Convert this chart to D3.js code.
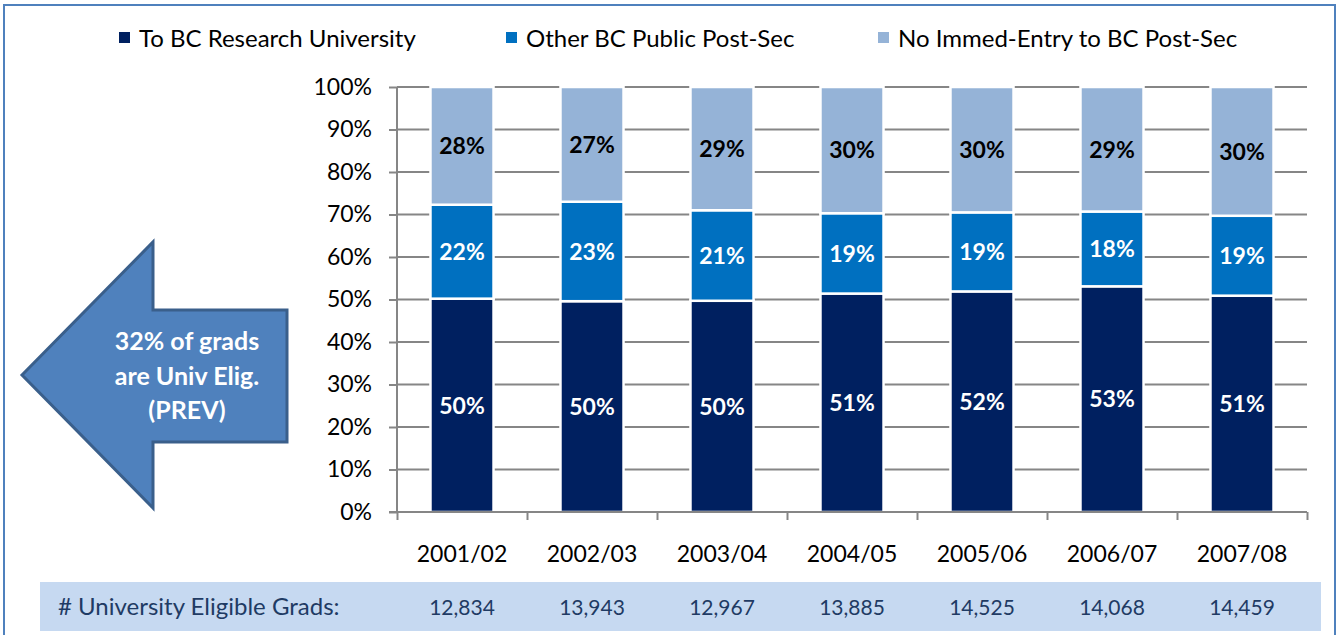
<!DOCTYPE html>
<html lang="en">
<head>
<meta charset="utf-8">
<title>University Eligible Grads</title>
<style>
    body { margin: 0; background: #fff; }
    svg text { font-family: Lato, "Open Sans", sans-serif; }
    .axis path, .axis line { stroke: #868686; stroke-width: 2; }
    .grid line { stroke: #868686; stroke-width: 2; }
</style>
</head>
<body>
<div id="chart"></div>
<script src="https://d3js.org/d3.v7.min.js"></script>
<script type="text/javascript">

    // data
    var years = ["2001/02", "2002/03", "2003/04", "2004/05", "2005/06", "2006/07", "2007/08"];
    var research = [50.2, 49.6, 49.7, 51.4, 51.9, 53.1, 50.9];
    var otherPublic = [22.1, 23.4, 21.3, 18.9, 18.6, 17.6, 18.8];
    var noEntry = [27.7, 27.0, 29.0, 29.7, 29.5, 29.3, 30.3];
    var eligibleGrads = ["12,834", "13,943", "12,967", "13,885", "14,525", "14,068", "14,459"];
    var seriesNames = ["To BC Research University", "Other BC Public Post-Sec", "No Immed-Entry to BC Post-Sec"];
    var seriesColors = ["#002060", "#0070c0", "#95b3d7"];
    var yTicks = [0, 10, 20, 30, 40, 50, 60, 70, 80, 90, 100];

    var W = 1339, H = 635;
    // plot area edges (note: "top" is taken by window.top)
    var plotLeft = 397, plotRight = 1307, plotTop = 87, plotBottom = 512;

    var svg = d3.select("#chart").append("svg")
        .attr("width", W)
        .attr("height", H);

    // outer frame
    svg.append("rect")
        .attr("x", 4).attr("y", 5)
        .attr("width", 1331).attr("height", 660)
        .attr("fill", "none")
        .attr("stroke", "#4f81bd")
        .attr("stroke-width", 2);

    var x = d3.scaleBand()
        .domain(years)
        .range([plotLeft, plotRight])
        .paddingInner(0.515)
        .paddingOuter(0.2575);

    var y = d3.scaleLinear()
        .domain([0, 100])
        .range([plotBottom, plotTop]);

    // gridlines
    svg.append("g")
        .attr("class", "grid")
        .selectAll("line")
        .data(yTicks.slice(1))
        .enter().append("line")
        .attr("x1", plotLeft).attr("x2", plotRight)
        .attr("y1", function(d) { return y(d); })
        .attr("y2", function(d) { return y(d); });

    // stacked data
    var rows = years.map(function(yr, i) {
        return { year: yr, research: research[i], other: otherPublic[i], none: noEntry[i] };
    });
    var stack = d3.stack().keys(["research", "other", "none"]);
    var layers = stack(rows);

    var layer = svg.selectAll(".layer")
        .data(layers)
        .enter().append("g")
        .attr("class", "layer")
        .attr("fill", function(d, i) { return seriesColors[i]; });

    layer.selectAll("rect")
        .data(function(d) { return d; })
        .enter().append("rect")
        .attr("x", function(d) { return x(d.data.year); })
        .attr("width", x.bandwidth())
        .attr("y", function(d) { return y(d[1]); })
        .attr("height", function(d) { return y(d[0]) - y(d[1]); })
        .attr("stroke", "#fff")
        .attr("stroke-width", 2.5);

    // segment labels
    layer.selectAll("text")
        .data(function(d, i) { return d.map(function(p) { p.layerIndex = i; return p; }); })
        .enter().append("text")
        .attr("x", function(d) { return x(d.data.year) + x.bandwidth() / 2; })
        .attr("y", function(d) { return (y(d[0]) + y(d[1])) / 2; })
        .attr("dy", "0.36em")
        .attr("text-anchor", "middle")
        .attr("font-weight", "bold")
        .attr("font-size", 23)
        .attr("fill", function(d) { return d.layerIndex === 2 ? "#000" : "#fff"; })
        .text(function(d) { return Math.round(d[1] - d[0]) + "%"; });

    // y axis
    var yAxis = svg.append("g")
        .attr("class", "axis")
        .attr("transform", "translate(" + plotLeft + ",0)")
        .call(d3.axisLeft(y)
            .tickValues(yTicks)
            .tickSize(8)
            .tickPadding(17)
            .tickFormat(function(d) { return d + "%"; }));
    yAxis.select(".domain").attr("d", "M0," + plotBottom + "V" + plotTop);
    yAxis.selectAll("text")
        .attr("font-size", 23)
        .attr("fill", "#000")
        .style("font-family", "Lato, sans-serif");

    // x axis: category boundary ticks
    var xb = d3.scaleLinear().domain([0, years.length]).range([plotLeft, plotRight]);
    var xAxis = svg.append("g")
        .attr("class", "axis")
        .attr("transform", "translate(0," + plotBottom + ")")
        .call(d3.axisBottom(xb)
            .tickValues(d3.range(years.length + 1))
            .tickSize(8)
            .tickFormat(""));
    xAxis.select(".domain").attr("d", "M" + (plotLeft - 8) + ",0H" + plotRight);

    // category labels
    svg.append("g")
        .attr("class", "xlabels")
        .attr("transform", "translate(0,562)")
        .call(d3.axisBottom(x).tickSize(0).tickPadding(0))
        .call(function(g) { g.select(".domain").remove(); })
        .selectAll("text")
        .attr("dy", 0)
        .attr("font-size", 23)
        .attr("fill", "#000")
        .style("font-family", "Lato, sans-serif");

    // legend
    var legendX = [119, 506, 878];
    var legend = svg.append("g").attr("class", "legend");
    var item = legend.selectAll("g")
        .data(seriesNames)
        .enter().append("g")
        .attr("transform", function(d, i) { return "translate(" + legendX[i] + ",0)"; });
    item.append("rect")
        .attr("x", 0).attr("y", 32)
        .attr("width", 11).attr("height", 11)
        .attr("fill", function(d, i) { return seriesColors[i]; });
    item.append("text")
        .attr("x", 20).attr("y", 47)
        .attr("font-size", 24)
        .attr("fill", "#000")
        .text(function(d) { return d; });

    // arrow callout
    var arrowPts = [[22, 375], [153, 242], [153, 310], [287, 310], [287, 442], [153, 442], [153, 508]];
    svg.append("path")
        .attr("d", d3.line()(arrowPts) + "Z")
        .attr("fill", "#4f81bd")
        .attr("stroke", "#3a5f8b")
        .attr("stroke-width", 3)
        .attr("stroke-linejoin", "miter");
    var arrowLines = ["32% of grads", "are Univ Elig.", "(PREV)"];
    svg.append("g").selectAll("text")
        .data(arrowLines)
        .enter().append("text")
        .attr("x", 187)
        .attr("y", function(d, i) { return 350 + i * 34.5; })
        .attr("text-anchor", "middle")
        .attr("font-size", 25)
        .attr("font-weight", "bold")
        .attr("fill", "#fff")
        .text(function(d) { return d; });

    // bottom band with grad counts
    svg.append("rect")
        .attr("x", 40).attr("y", 582)
        .attr("width", 1281).attr("height", 49)
        .attr("fill", "#c6d9f1");
    svg.append("text")
        .attr("x", 58).attr("y", 615)
        .attr("font-size", 24)
        .attr("fill", "#1f3b64")
        .text("# University Eligible Grads:");
    svg.append("g").selectAll("text")
        .data(eligibleGrads)
        .enter().append("text")
        .attr("x", function(d, i) { return x(years[i]) + x.bandwidth() / 2; })
        .attr("y", 615)
        .attr("text-anchor", "middle")
        .attr("font-size", 21)
        .attr("fill", "#1f3b64")
        .text(function(d) { return d; });

</script>
</body>
</html>
